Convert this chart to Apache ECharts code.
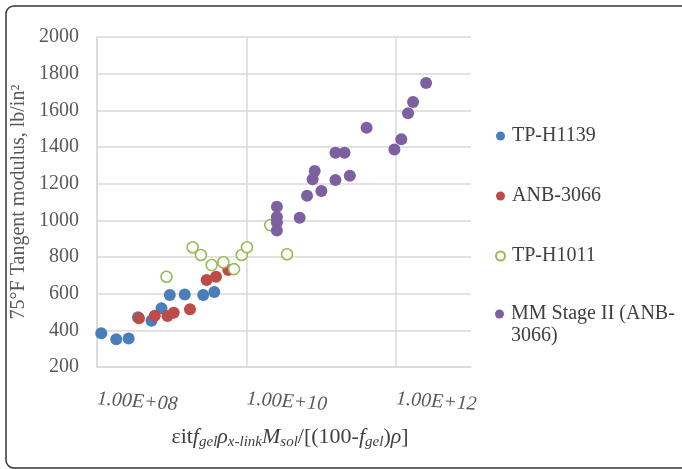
<!DOCTYPE html>
<html>
<head>
<meta charset="utf-8">
<script src="https://cdn.jsdelivr.net/npm/echarts@6/dist/echarts.min.js"></script>
<style>
  html, body { margin: 0; padding: 0; background: #fff; }
  #chart { width: 682px; height: 469px; }
</style>
</head>
<body>
<div id="chart"></div>
<script>
// 数据
const seriesNames = ['TP-H1139', 'ANB-3066', 'TP-H1011', 'MM Stage II (ANB-\n3066)'];

const tpH1139 = [
  [1.14e8, 384], [1.81e8, 351], [2.65e8, 356], [3.53e8, 471], [5.35e8, 452],
  [7.28e8, 520], [9.4e8, 593], [1.49e9, 596], [2.63e9, 593], [3.70e9, 609]
];
const anb3066 = [
  [3.64e8, 466], [5.92e8, 480], [8.75e8, 478], [1.06e9, 496], [1.75e9, 515],
  [2.92e9, 675], [3.90e9, 692], [5.70e9, 729]
];
const tpH1011 = [
  [8.49e8, 692], [1.90e9, 853], [2.45e9, 811], [3.41e9, 756], [4.89e9, 771],
  [6.79e9, 734], [8.62e9, 811], [1.01e10, 853], [2.07e10, 974], [3.47e10, 815]
];
const mmStage2 = [
  [2.54e10, 1074], [2.54e10, 1018], [2.54e10, 990], [2.54e10, 945],
  [5.12e10, 1014], [6.43e10, 1134], [1.0e11, 1160], [7.64e10, 1224], [8.13e10, 1269],
  [1.54e11, 1220], [2.40e11, 1243], [1.54e11, 1369], [2.04e11, 1369], [4.02e11, 1505],
  [9.46e11, 1387], [1.17e12, 1442], [1.44e12, 1584], [1.68e12, 1645], [2.51e12, 1749]
];

const colors = ['#4a7ebb', '#be4b48', '#98b954', '#7d60a0'];
const serif = '"Liberation Serif", "DejaVu Serif", serif';

const chart = echarts.init(document.getElementById('chart'));

function expLabel(v) {
  const e = Math.round(Math.log10(v));
  if (Math.abs(Math.log10(v) - e) > 1e-6 || e % 2 !== 0) return '';
  return '1.00E+' + String(e).padStart(2, '0');
}

const legendBase = {
  orient: 'vertical',
  left: 490,
  icon: 'circle',
  itemWidth: 13,
  itemHeight: 9,
  itemGap: 38,
  textStyle: { fontFamily: serif, fontSize: 20, color: '#404040', lineHeight: 22 }
};

const option = {
  animation: false,
  graphic: [{
    type: 'rect',
    shape: { x: 6, y: 6, width: 720, height: 462, r: 8 },
    style: { fill: 'none', stroke: '#333', lineWidth: 1.5 },
    silent: true
  }],
  grid: { left: 97, top: 37, width: 374, height: 330, outerBoundsMode: 'none' },
  legend: [
    Object.assign({}, legendBase, { top: 120, data: seriesNames.slice(0, 3) }),
    // 多行图例：第一行与图标对齐
    Object.assign({}, legendBase, {
      top: 276,
      data: [seriesNames[3]],
      formatter: name => '\n' + name
    })
  ],
  xAxis: {
    type: 'log',
    logBase: 100,
    min: 1e8,
    max: 1e13,
    interval: 1,
    name: '{n|εit}{i|f}{s|gel}{i|ρ}{s|x-link}{i|M}{s|sol}{n|/[(100-}{i|f}{s|gel}{n|)}{i|ρ}{n|]}',
    nameLocation: 'middle',
    nameGap: 58,
    nameMoveOverlap: false,
    nameTextStyle: {
      padding: [0, 0, 0, 12],
      rich: {
        n: { fontFamily: serif, fontSize: 22, color: '#404040' },
        i: { fontFamily: serif, fontSize: 22, fontStyle: 'italic', color: '#404040' },
        s: { fontFamily: serif, fontSize: 15, fontStyle: 'italic', color: '#404040', padding: [10, 0, 0, 0] }
      }
    },
    axisLine: { show: true, lineStyle: { color: '#d9d9d9', width: 1.5 } },
    axisTick: { show: false },
    axisLabel: {
      formatter: expLabel,
      fontFamily: serif,
      fontSize: 20,
      fontStyle: 'italic',
      color: '#595959',
      rotate: -4,
      align: 'left',
      verticalAlign: 'middle',
      margin: 32
    },
    splitLine: { show: true, showMaxLine: false, lineStyle: { color: '#d9d9d9', width: 1.5 } }
  },
  yAxis: {
    type: 'value',
    min: 200,
    max: 2000,
    interval: 200,
    name: '75°F Tangent modulus, lb/in²',
    nameLocation: 'middle',
    nameGap: 68,
    nameMoveOverlap: false,
    nameTextStyle: { fontFamily: serif, fontSize: 20, color: '#595959' },
    axisLine: { show: true, lineStyle: { color: '#d9d9d9', width: 1.5 } },
    axisTick: { show: false },
    axisLabel: {
      formatter: v => String(v),
      fontFamily: serif, fontSize: 20, color: '#595959', margin: 18
    },
    splitLine: { show: true, lineStyle: { color: '#d9d9d9', width: 1.5 } }
  },
  series: [
    {
      name: seriesNames[0], type: 'scatter', data: tpH1139, symbolSize: 12,
      itemStyle: { color: colors[0], opacity: 1 }
    },
    {
      name: seriesNames[1], type: 'scatter', data: anb3066, symbolSize: 12,
      itemStyle: { color: colors[1], opacity: 1 }
    },
    {
      name: seriesNames[2], type: 'scatter', data: tpH1011, symbolSize: 11,
      itemStyle: { color: '#fff', borderColor: colors[2], borderWidth: 1.6, opacity: 1 }
    },
    {
      name: seriesNames[3], type: 'scatter', data: mmStage2, symbolSize: 12,
      itemStyle: { color: colors[3], opacity: 1 }
    }
  ]
};

chart.setOption(option);
</script>
</body>
</html>
